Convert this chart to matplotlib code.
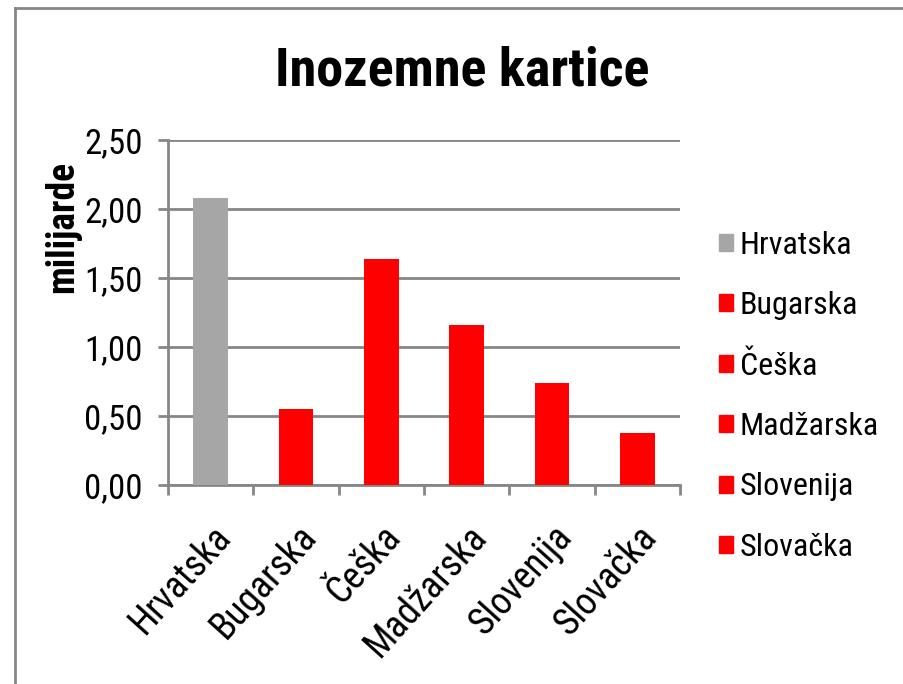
import matplotlib
matplotlib.use("Agg")
import matplotlib.pyplot as plt
from matplotlib.patches import Rectangle
from matplotlib.lines import Line2D
from matplotlib.ticker import FuncFormatter

plt.rcParams['font.family'] = ['Roboto Condensed', 'DejaVu Sans']

categories = ["Hrvatska", "Bugarska", "Češka", "Madžarska", "Slovenija", "Slovačka"]
values = [2.08, 0.55, 1.64, 1.16, 0.74, 0.38]
colors = ["#A6A6A6", "#FF0000", "#FF0000", "#FF0000", "#FF0000", "#FF0000"]
yticks = [0.0, 0.5, 1.0, 1.5, 2.0, 2.5]

fig = plt.figure(figsize=(9.04, 6.84), dpi=100)
W, H = 904, 684
ax = fig.add_axes([168 / W, 1 - 485 / H, (680 - 168) / W, (485 - 140) / H])

x = list(range(len(categories)))
ax.bar(x, values, width=0.41, color=colors, zorder=3)

ax.set_ylim(0, 2.5)
ax.set_xlim(-0.5, len(categories) - 0.5)
ax.set_yticks(yticks)
ax.yaxis.set_major_formatter(FuncFormatter(lambda v, p: f"{v:.2f}".replace(".", ",")))
ax.grid(axis='y', color='#868686', linewidth=2, zorder=0)
ax.set_axisbelow(True)

for s in ['top', 'right']:
    ax.spines[s].set_visible(False)
for s in ['left', 'bottom']:
    ax.spines[s].set_color('#868686')
    ax.spines[s].set_linewidth(2)

ax.tick_params(axis='y', direction='out', length=7, width=2, color='#868686', labelsize=25, pad=11)
ax.set_xticks([i - 0.5 for i in range(len(categories) + 1)], minor=False)
ax.set_xticklabels([])
ax.tick_params(axis='x', which='major', direction='out', length=7, width=2, color='#868686')
ax.set_xticks(x, minor=True)
ax.set_xticklabels(categories, minor=True, rotation=48, ha='right', va='top',
                   rotation_mode='anchor', fontsize=27)
ax.tick_params(axis='x', which='minor', length=0, pad=24)

fig.text(63 / W, 1 - 227 / H, "milijarde", fontsize=27, fontweight='bold',
         rotation=90, ha='center', va='center')

fig.text(462 / W, 1 - 86 / H, "Inozemne kartice", fontsize=39, fontweight='bold',
         ha='center', va='baseline')

handles = [Rectangle((0, 0), 1, 1, color=c) for c in colors]
fig.legend(handles, categories, loc='upper left', bbox_to_anchor=(706 / W, 1 - 218 / H),
           frameon=False, fontsize=23, handlelength=0.45, handleheight=0.45,
           handletextpad=0.2, labelspacing=0.98, borderaxespad=0)

fig.add_artist(Line2D([15 / W, 15 / W], [0, 1 - 8 / H], transform=fig.transFigure,
                      color='#868686', linewidth=2))
fig.add_artist(Line2D([15 / W, 1.02], [1 - 8 / H, 1 - 8 / H], transform=fig.transFigure,
                      color='#868686', linewidth=2))

fig.savefig("out.png", dpi=100)
